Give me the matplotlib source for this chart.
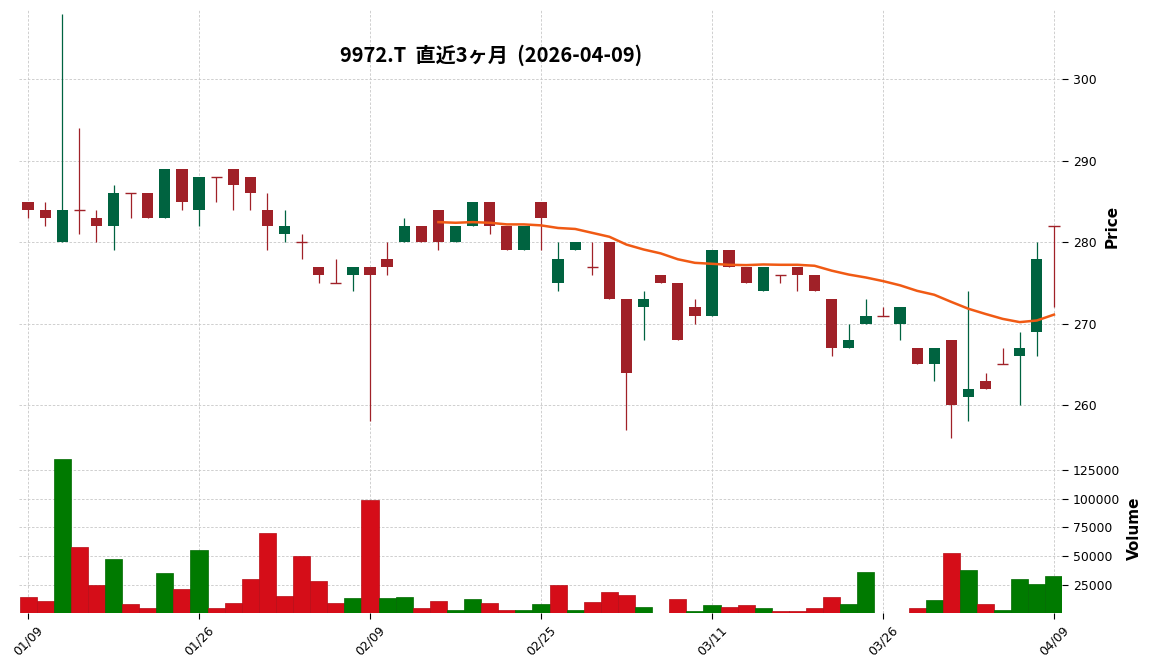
import numpy as np
import pandas as pd
import matplotlib
matplotlib.use("Agg")
import matplotlib.pyplot as plt
from matplotlib.ticker import MultipleLocator, ScalarFormatter

# --- data ---
ticker = "9972.T"
title_date = "2026-04-09"
holidays = ["2026-01-12", "2026-02-11", "2026-02-23", "2026-03-20"]

opens = [285, 284, 280, 284, 283, 282, 286, 286, 283, 289,
         284, 288, 289, 288, 284, 281, 280, 277, 275, 276,
         277, 278, 280, 282, 284, 280, 282, 285, 282, 279,
         285, 275, 279, 277, 280, 273, 272, 276, 275, 272,
         271, 279, 277, 274, 276, 277, 276, 273, 267, 270,
         271, 270, 267, 265, 268, 261, 263, 265, 266, 269, 282]
highs = [285, 285, 308, 294, 284, 287, 286, 286, 289, 289,
         288, 288, 289, 288, 286, 284, 281, 277, 278, 277,
         277, 280, 283, 282, 284, 282, 285, 285, 282, 282,
         285, 280, 280, 280, 280, 273, 274, 276, 275, 273,
         279, 279, 277, 277, 276, 277, 276, 273, 270, 273,
         272, 272, 267, 267, 268, 274, 264, 267, 269, 280, 282]
lows = [283, 282, 280, 281, 280, 279, 283, 283, 283, 284,
        282, 285, 284, 284, 279, 280, 278, 275, 275, 274,
        258, 276, 280, 280, 279, 280, 282, 281, 279, 279,
        279, 274, 279, 276, 273, 257, 268, 275, 268, 270,
        271, 277, 275, 274, 275, 274, 274, 266, 267, 270,
        271, 268, 265, 263, 256, 258, 262, 265, 260, 266, 272]
closes = [284, 283, 284, 284, 282, 286, 286, 283, 289, 285,
          288, 288, 287, 286, 282, 282, 280, 276, 275, 277,
          276, 277, 282, 280, 280, 282, 285, 282, 279, 282,
          283, 278, 280, 277, 273, 264, 273, 275, 268, 271,
          279, 277, 275, 277, 276, 276, 274, 267, 268, 271,
          271, 272, 265, 267, 260, 262, 262, 265, 267, 278, 282]
volumes = [14200, 10800, 134700, 57800, 24700, 47500, 8200, 4800, 35500, 21900,
           55200, 4800, 9100, 30400, 69700, 15000, 50100, 28700, 9100, 13300,
           98800, 13300, 14200, 4800, 10800, 3100, 12500, 9100, 3100, 3100,
           8200, 24700, 3100, 9900, 19300, 15900, 5600, np.nan, 12500, 2200,
           7300, 5600, 7300, 4800, 2200, 2200, 4800, 14200, 8200, 36400,
           np.nan, np.nan, 4800, 11600, 52600, 38100, 8200, 3100, 30400, 26100, 33000]

mav_window = 25

dates = pd.bdate_range("2026-01-09", "2026-04-09", freq="C", holidays=holidays)
df = pd.DataFrame({"Open": opens, "High": highs, "Low": lows,
                   "Close": closes, "Volume": volumes}, index=dates)

# colours (charles-like)
up_c, down_c = "#006340", "#a02128"
vup_c, vdown_c = "#007a00", "#d50d18"
ma_c = "#f05a14"
grid_c = "#c8c8c8"

x = np.arange(len(df))
o, h, l, c = df.Open.values, df.High.values, df.Low.values, df.Close.values
is_up = c > o
ccols = np.where(is_up, up_c, down_c)
prev = np.r_[o[0], c[:-1]]
vcols = np.where(c > prev, vup_c, vdown_c)
vedge = np.where(c > prev, "#006a00", "#b80b15")

fig = plt.figure(figsize=(11.52, 6.7), dpi=100)
ax = fig.add_axes([0.0162, 0.3403, 0.9061, 0.6447])
axv = fig.add_axes([0.0162, 0.0851, 0.9061, 0.2537], sharex=ax)

# candles
ax.vlines(x, l, h, colors=ccols, linewidth=0.9, zorder=2)
body_w = 0.66
hb = np.abs(c - o)
ax.bar(x[hb > 0], hb[hb > 0], bottom=np.minimum(o, c)[hb > 0], width=body_w,
       color=ccols[hb > 0], linewidth=0, zorder=3)
ax.hlines(o[hb == 0], x[hb == 0] - body_w / 2, x[hb == 0] + body_w / 2,
          colors=ccols[hb == 0], linewidth=1.0, zorder=3)

# moving average
ma = df.Close.rolling(mav_window).mean()
ax.plot(x, ma.values, color=ma_c, linewidth=1.8, zorder=4)

lo, hi = np.min(l), np.max(h)
pad = 0.01 * (hi - lo)
ax.set_ylim(lo - pad, hi + pad)
ax.set_xlim(-0.55, len(df) - 0.5)
ax.yaxis.set_major_locator(MultipleLocator(10))

# volume
vol = df.Volume.values
axv.bar(x, np.nan_to_num(vol), width=1.0, color=vcols, edgecolor=vedge, linewidth=0.5)
axv.set_ylim(0.3 * np.nanmin(vol), 1.1 * np.nanmax(vol))
fmt = ScalarFormatter(useOffset=False)
fmt.set_scientific(False)
axv.yaxis.set_major_formatter(fmt)
axv.yaxis.set_major_locator(MultipleLocator(25000))

tick_idx = list(range(0, len(df), 10))
axv.set_xticks(tick_idx)
axv.set_xticklabels([dates[i].strftime("%m/%d") for i in tick_idx],
                    rotation=45, ha="center", fontsize=8.9)

for a in (ax, axv):
    for s in a.spines.values():
        s.set_visible(False)
    a.grid(True, linestyle=(0, (3, 2)), color=grid_c, linewidth=0.6)
    a.set_axisbelow(True)
    a.yaxis.tick_right()
    a.yaxis.set_label_position("right")
    a.tick_params(axis="y", labelsize=8.9, length=4, width=0.8)

ax.tick_params(axis="x", bottom=False, labelbottom=False)
axv.tick_params(axis="x", length=4, width=0.8)

ax.set_ylabel("Price", fontsize=11, fontweight="bold", labelpad=6)
axv.set_ylabel("Volume", fontsize=11, fontweight="bold", labelpad=5)

fig.text(491 / 1152, 1 - 55 / 670, f"{ticker}  直近3ヶ月  ({title_date})",
         fontsize=14.5, fontweight="bold",
         family=["Noto Sans CJK JP", "DejaVu Sans"], ha="center", va="center")

fig.savefig("out.png", dpi=100)
